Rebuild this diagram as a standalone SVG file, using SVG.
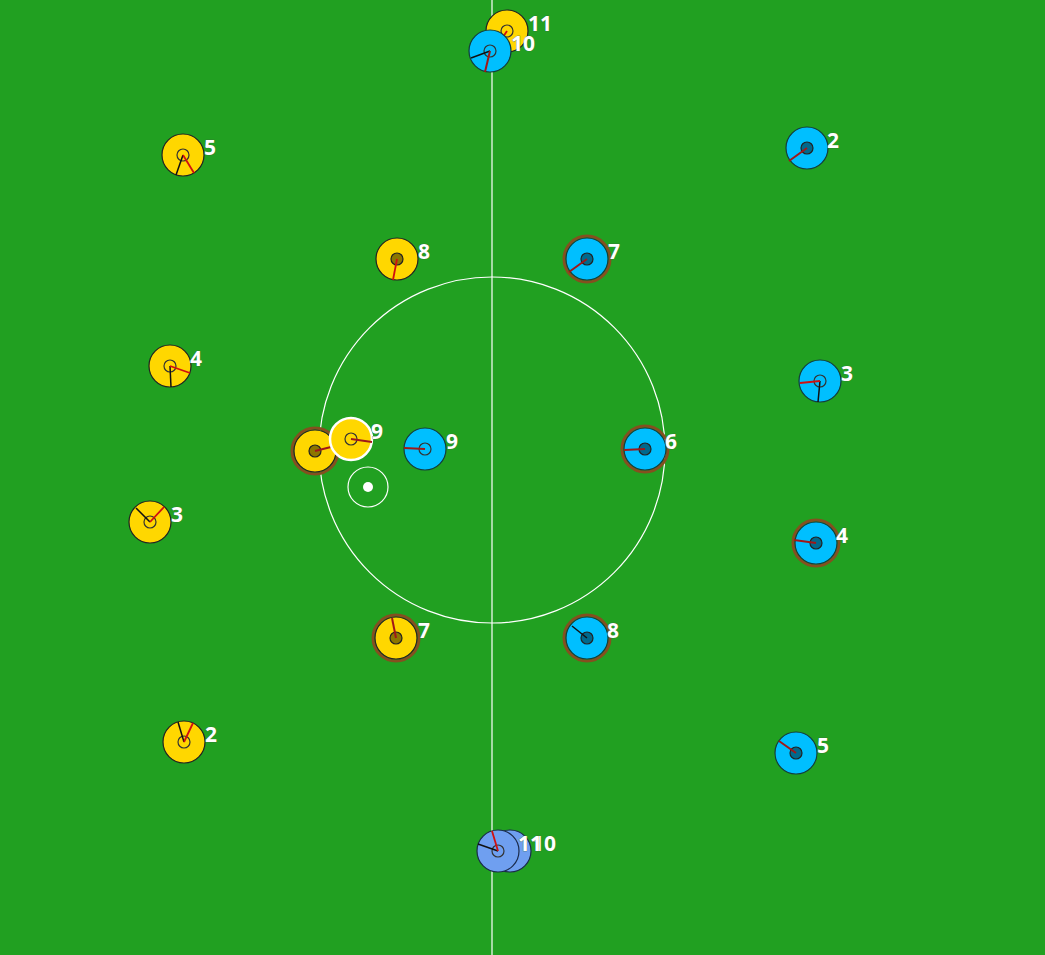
<svg xmlns="http://www.w3.org/2000/svg" width="1045" height="955" viewBox="0 0 1045 955">
<style>
.ln{fill:none;stroke:#fff;stroke-width:1.2}
.y{fill:#ffd700;stroke:#222;stroke-width:1.2}
.b{fill:#00bfff;stroke:#143c3c;stroke-width:1.2}
.lb{fill:#6f9ff0;stroke:#1a2a4a;stroke-width:1.2}
.ring{fill:none;stroke:#84501f;stroke-width:3}
.in{fill:none;stroke:#333;stroke-width:1.2}
.ind{fill:rgba(0,0,0,0.45);stroke:#222;stroke-width:1.2}
.bk{stroke:#111;stroke-width:1.5}
.rd{stroke:#d01010;stroke-width:1.8}
.dr{stroke:#a01818;stroke-width:2}
.t{font-family:"Noto Sans","DejaVu Sans",sans-serif;font-weight:bold;font-size:21px;fill:#fff;stroke:#3a6a3a;stroke-width:0.6;paint-order:stroke}
</style>
<rect x="0" y="0" width="1045" height="955" fill="#21a021"/>
<g id="field">
<line class="ln" x1="492" y1="0" x2="492" y2="955"/>
<circle class="ln" cx="492" cy="450" r="173"/>
</g>
<g id="yellow-11"><circle class="y" cx="507" cy="31" r="21"/><circle class="in" cx="507" cy="31" r="6"/><line class="rd" x1="507" y1="31" x2="503" y2="37"/><text class="t" x="528" y="31">11</text></g>
<g id="blue-10"><circle class="b" cx="490" cy="51" r="21"/><circle class="in" cx="490" cy="51" r="6"/><line class="bk" x1="490" y1="51" x2="471" y2="58"/><line class="dr" x1="490" y1="51" x2="485" y2="72"/><text class="t" x="511" y="51">10</text></g>
<g id="yellow-5"><circle class="y" cx="183" cy="155" r="21"/><circle class="in" cx="183" cy="155" r="6"/><line class="bk" x1="183" y1="155" x2="176" y2="175"/><line class="rd" x1="183" y1="155" x2="194" y2="173"/><text class="t" x="204" y="155">5</text></g>
<g id="blue-2"><circle class="b" cx="807" cy="148" r="21"/><circle class="ind" cx="807" cy="148" r="6"/><line class="dr" x1="807" y1="148" x2="789" y2="161"/><text class="t" x="827" y="148">2</text></g>
<g id="yellow-8"><circle class="y" cx="397" cy="259" r="21"/><circle class="ind" cx="397" cy="259" r="6"/><line class="rd" x1="397" y1="259" x2="393" y2="280"/><text class="t" x="418" y="259">8</text></g>
<g id="blue-7"><circle class="ring" cx="587" cy="259" r="23"/><circle class="b" cx="587" cy="259" r="21"/><circle class="ind" cx="587" cy="259" r="6"/><line class="dr" x1="587" y1="259" x2="569" y2="272"/><text class="t" x="608" y="259">7</text></g>
<g id="yellow-4"><circle class="y" cx="170" cy="366" r="21"/><circle class="in" cx="170" cy="366" r="6"/><line class="bk" x1="170" y1="366" x2="171" y2="387"/><line class="rd" x1="170" y1="366" x2="190" y2="373"/><text class="t" x="190" y="366">4</text></g>
<g id="blue-3"><circle class="b" cx="820" cy="381" r="21"/><circle class="in" cx="820" cy="381" r="6"/><line class="bk" x1="820" y1="381" x2="818" y2="402"/><line class="rd" x1="820" y1="381" x2="800" y2="383"/><text class="t" x="841" y="381">3</text></g>
<g id="yellow-1"><circle class="ring" cx="315" cy="451" r="23"/><circle class="y" cx="315" cy="451" r="21"/><circle class="ind" cx="315" cy="451" r="6"/><line class="dr" x1="315" y1="451" x2="331" y2="447"/></g>
<g id="yellow-9"><circle cx="351" cy="439" r="21" fill="#ffd700" stroke="#fff" stroke-width="2.5"/><circle class="in" cx="351" cy="439" r="6"/><line class="dr" x1="351" y1="439" x2="372" y2="442"/><text class="t" x="371" y="439">9</text></g>
<g id="blue-9"><circle class="b" cx="425" cy="449" r="21"/><circle class="in" cx="425" cy="449" r="6"/><line class="dr" x1="425" y1="449" x2="404" y2="448"/><text class="t" x="446" y="449">9</text></g>
<g id="blue-6"><circle class="ring" cx="645" cy="449" r="23"/><circle class="b" cx="645" cy="449" r="21"/><circle class="ind" cx="645" cy="449" r="6"/><line class="dr" x1="645" y1="449" x2="624" y2="450"/><text class="t" x="665" y="449">6</text></g>
<g id="ball"><circle cx="368" cy="487" r="20" fill="none" stroke="#fff" stroke-width="1.2"/><circle cx="368" cy="487" r="5" fill="#fff"/></g>
<g id="yellow-3"><circle class="y" cx="150" cy="522" r="21"/><circle class="in" cx="150" cy="522" r="6"/><line class="bk" x1="150" y1="522" x2="136" y2="508"/><line class="rd" x1="150" y1="522" x2="164" y2="507"/><text class="t" x="171" y="522">3</text></g>
<g id="blue-4"><circle class="ring" cx="816" cy="543" r="23"/><circle class="b" cx="816" cy="543" r="21"/><circle class="ind" cx="816" cy="543" r="6"/><line class="dr" x1="816" y1="543" x2="794" y2="540"/><text class="t" x="836" y="543">4</text></g>
<g id="yellow-7"><circle class="ring" cx="396" cy="638" r="23"/><circle class="y" cx="396" cy="638" r="21"/><circle class="ind" cx="396" cy="638" r="6"/><line class="dr" x1="396" y1="638" x2="392" y2="618"/><text class="t" x="418" y="638">7</text></g>
<g id="blue-8"><circle class="ring" cx="587" cy="638" r="23"/><circle class="b" cx="587" cy="638" r="21"/><circle class="ind" cx="587" cy="638" r="6"/><line class="bk" x1="587" y1="638" x2="572" y2="626"/><text class="t" x="607" y="638">8</text></g>
<g id="yellow-2"><circle class="y" cx="184" cy="742" r="21"/><circle class="in" cx="184" cy="742" r="6"/><line class="bk" x1="184" y1="742" x2="178" y2="722"/><line class="rd" x1="184" y1="742" x2="193" y2="723"/><text class="t" x="205" y="742">2</text></g>
<g id="blue-5"><circle class="b" cx="796" cy="753" r="21"/><circle class="ind" cx="796" cy="753" r="6"/><line class="dr" x1="796" y1="753" x2="779" y2="741"/><text class="t" x="817" y="753">5</text></g>
<g id="sub-10"><circle class="lb" cx="510" cy="851" r="21"/><text class="t" x="532" y="851">10</text></g>
<g id="sub-11"><circle class="lb" cx="498" cy="851" r="21"/><circle class="in" cx="498" cy="851" r="6"/><line class="bk" x1="498" y1="851" x2="478" y2="844"/><line class="rd" x1="498" y1="851" x2="492" y2="831"/><text class="t" x="518" y="851">11</text></g>
</svg>
